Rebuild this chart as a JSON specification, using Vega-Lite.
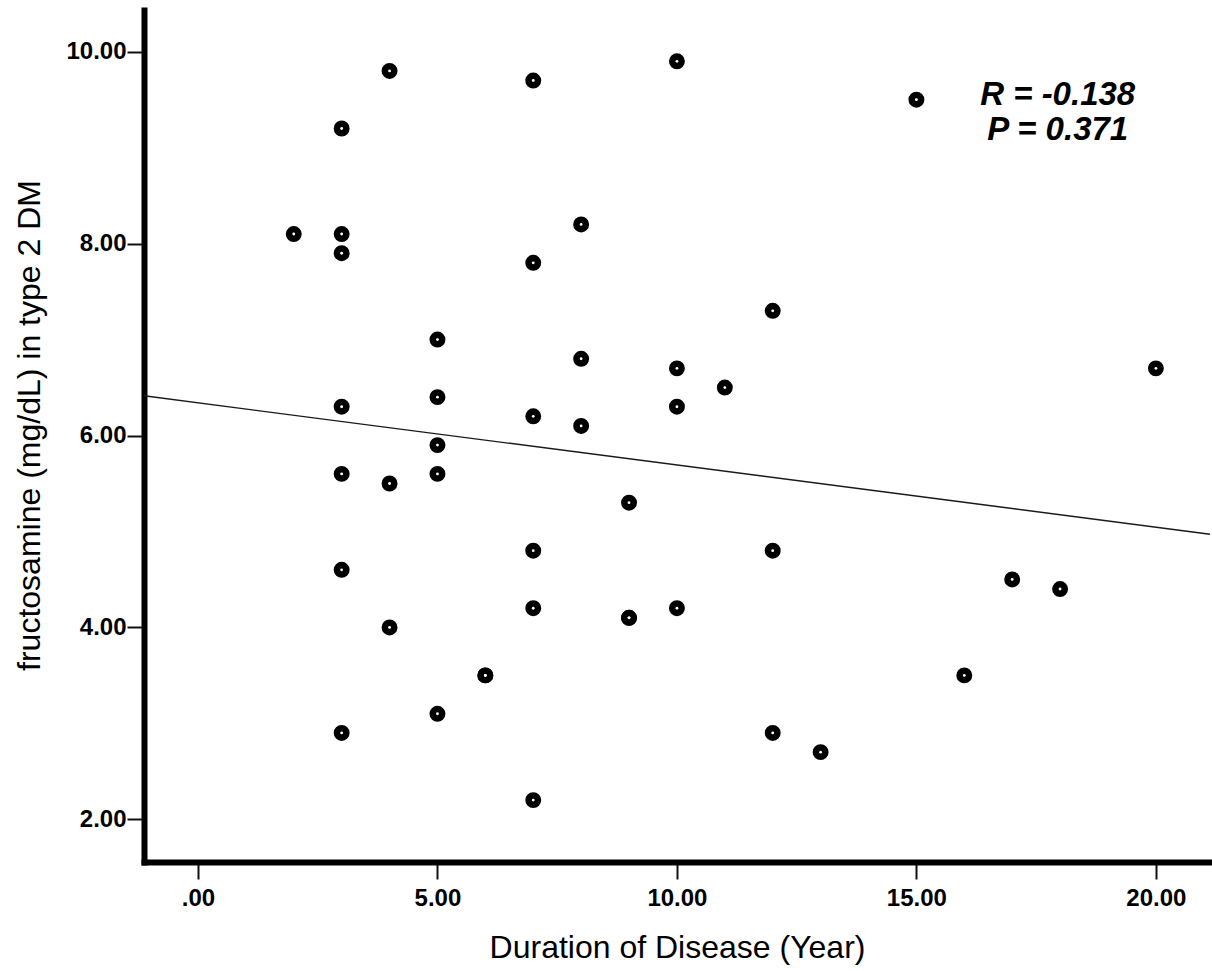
{
  "$schema": "https://vega.github.io/schema/vega-lite/v6.json",
  "width": 1066,
  "height": 852,
  "autosize": "none",
  "padding": {"left": 144, "top": 10, "right": 2, "bottom": 109},
  "background": "white",
  "config": {
    "view": {"stroke": null},
    "font": "Liberation Sans",
    "axis": {
      "grid": false,
      "domainColor": "black",
      "domainWidth": 6,
      "domainCap": "square",
      "tickColor": "#111111",
      "tickWidth": 2,
      "tickSize": 17,
      "labelFont": "Liberation Sans",
      "labelFontSize": 24,
      "labelFontWeight": "bold",
      "labelColor": "black",
      "titleFont": "Liberation Sans",
      "titleFontSize": 32,
      "titleFontWeight": "normal",
      "titleColor": "black"
    }
  },
  "datasets": {
    "pts": [
      {"duration": 2, "fructosamine": 8.1},
      {"duration": 3, "fructosamine": 9.2},
      {"duration": 3, "fructosamine": 8.1},
      {"duration": 3, "fructosamine": 7.9},
      {"duration": 3, "fructosamine": 6.3},
      {"duration": 3, "fructosamine": 5.6},
      {"duration": 3, "fructosamine": 4.6},
      {"duration": 3, "fructosamine": 2.9},
      {"duration": 4, "fructosamine": 9.8},
      {"duration": 4, "fructosamine": 5.5},
      {"duration": 4, "fructosamine": 4.0},
      {"duration": 5, "fructosamine": 7.0},
      {"duration": 5, "fructosamine": 6.4},
      {"duration": 5, "fructosamine": 5.9},
      {"duration": 5, "fructosamine": 5.6},
      {"duration": 5, "fructosamine": 3.1},
      {"duration": 6, "fructosamine": 3.5},
      {"duration": 6, "fructosamine": 3.5},
      {"duration": 7, "fructosamine": 9.7},
      {"duration": 7, "fructosamine": 7.8},
      {"duration": 7, "fructosamine": 6.2},
      {"duration": 7, "fructosamine": 4.8},
      {"duration": 7, "fructosamine": 4.2},
      {"duration": 7, "fructosamine": 2.2},
      {"duration": 8, "fructosamine": 8.2},
      {"duration": 8, "fructosamine": 6.8},
      {"duration": 8, "fructosamine": 6.1},
      {"duration": 9, "fructosamine": 5.3},
      {"duration": 9, "fructosamine": 4.1},
      {"duration": 9, "fructosamine": 4.1},
      {"duration": 10, "fructosamine": 9.9},
      {"duration": 10, "fructosamine": 6.7},
      {"duration": 10, "fructosamine": 6.3},
      {"duration": 10, "fructosamine": 4.2},
      {"duration": 11, "fructosamine": 6.5},
      {"duration": 12, "fructosamine": 7.3},
      {"duration": 12, "fructosamine": 4.8},
      {"duration": 12, "fructosamine": 2.9},
      {"duration": 13, "fructosamine": 2.7},
      {"duration": 15, "fructosamine": 9.5},
      {"duration": 16, "fructosamine": 3.5},
      {"duration": 17, "fructosamine": 4.5},
      {"duration": 18, "fructosamine": 4.4},
      {"duration": 20, "fructosamine": 6.7}
    ],
    "fit": [
      {"duration": -1.127, "fructosamine": 6.414},
      {"duration": 21.13, "fructosamine": 4.971}
    ],
    "stats": [
      {"duration": 17.95, "fructosamine": 9.44, "label": "R = -0.138"},
      {"duration": 17.95, "fructosamine": 9.075, "label": "P = 0.371"}
    ]
  },
  "encoding": {
    "x": {
      "field": "duration",
      "type": "quantitative",
      "scale": {"domain": [-1.127, 21.13], "nice": false, "zero": false},
      "axis": {
        "title": "Duration of Disease (Year)",
        "values": [0, 5, 10, 15, 20],
        "labelExpr": "datum.value == 0 ? '.00' : format(datum.value, '.2f')",
        "labelPadding": 7,
        "titleY": 95,
        "titleBaseline": "alphabetic"
      }
    },
    "y": {
      "field": "fructosamine",
      "type": "quantitative",
      "scale": {"domain": [1.555, 10.435], "nice": false, "zero": false},
      "axis": {
        "title": "fructosamine (mg/dL) in type 2 DM",
        "values": [2, 4, 6, 8, 10],
        "labelExpr": "format(datum.value, '.2f')",
        "labelPadding": 1,
        "titleX": -105,
        "titleY": 415,
        "titleBaseline": "alphabetic"
      }
    }
  },
  "layer": [
    {
      "data": {"name": "fit"},
      "mark": {"type": "line", "color": "#1a1a1a", "strokeWidth": 1.4}
    },
    {
      "data": {"name": "pts"},
      "mark": {"type": "circle", "color": "black", "opacity": 1, "size": 254}
    },
    {
      "data": {"name": "pts"},
      "mark": {"type": "circle", "color": "white", "opacity": 1, "size": 8}
    },
    {
      "data": {"name": "stats"},
      "mark": {"type": "text", "align": "center", "baseline": "alphabetic", "fontSize": 33, "fontStyle": "italic", "fontWeight": "bold", "font": "Liberation Sans", "color": "black"},
      "encoding": {"text": {"field": "label", "type": "nominal"}}
    }
  ]
}
